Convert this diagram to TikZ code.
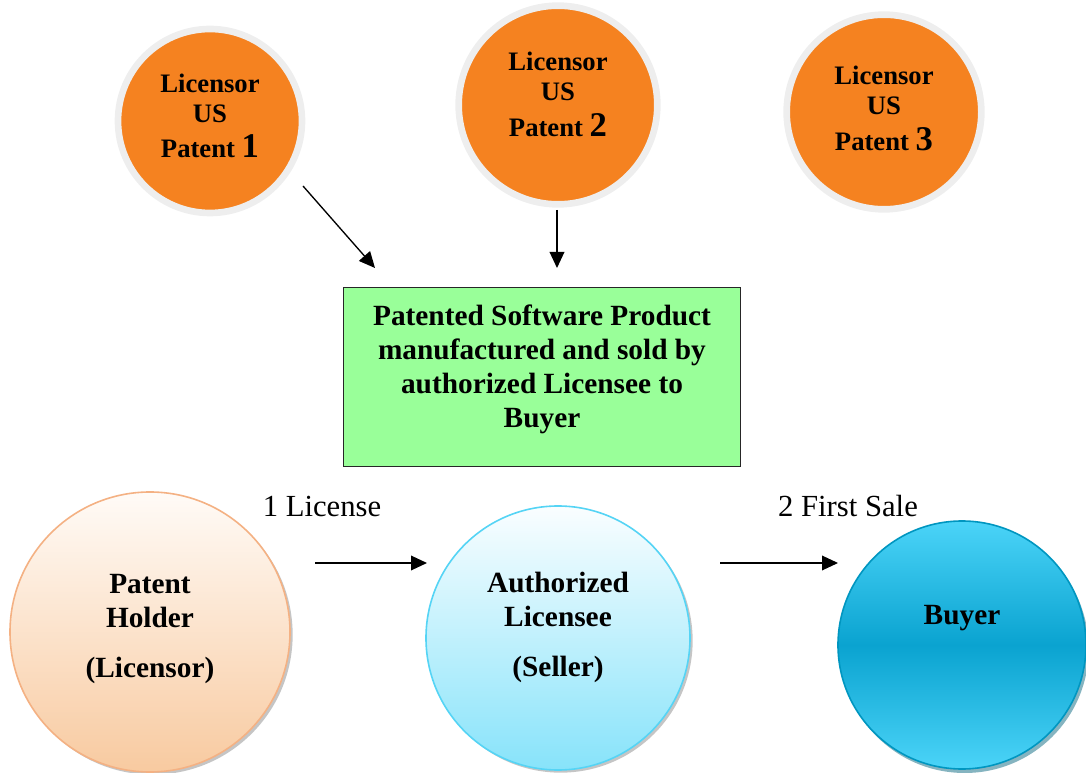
\documentclass[tikz,border=0pt]{standalone}
\usepackage{fontspec}
\setmainfont{Liberation Serif}
\usetikzlibrary{arrows.meta,shadows}
\definecolor{licorange}{RGB}{245,130,32}
\definecolor{ringgray}{RGB}{238,238,238}
\definecolor{prodgreen}{RGB}{153,255,153}
\definecolor{peachtop}{RGB}{255,251,247}
\definecolor{peachbot}{RGB}{248,202,160}
\definecolor{peachline}{RGB}{244,177,131}
\definecolor{skytop}{RGB}{250,254,255}
\definecolor{skybot}{RGB}{135,227,250}
\definecolor{skyline}{RGB}{85,212,245}
\definecolor{buyerlight}{RGB}{75,212,248}
\definecolor{buyerdark}{RGB}{10,163,208}
\definecolor{buyerline}{RGB}{0,150,192}
\definecolor{buyershadow}{RGB}{12,105,130}
\tikzstyle{lic}=[shape=circle,
                 fill=licorange,
                 draw=ringgray,
                 line width=5pt]
\tikzstyle{lictext}=[align=center,
                     font=\fontsize{20}{22.5}\selectfont\bfseries]
\tikzstyle{party}=[shape=circle,
                   line width=1.2pt]
\tikzstyle{partytext}=[align=center,
                       font=\fontsize{22}{25.5}\selectfont\bfseries]
\tikzstyle{prod}=[shape=rectangle,
                  fill=prodgreen,
                  draw=black!85,
                  line width=1.1pt,
                  minimum width=298pt,
                  minimum height=134pt]
\tikzstyle{deal}=[font=\fontsize{23}{26}\selectfont]

\begin{document}
\begin{tikzpicture}[x=0.75pt,y=-0.75pt,>={Triangle[length=12pt,width=11pt]},line width=1pt]
\useasboundingbox (0,0) rectangle (1086,773);

% licensors
\node[lic,minimum size=138pt,
      label={[lictext,yshift=4pt]center:Licensor\\US\\[4pt]Patent {\fontsize{26}{22.5}\selectfont 1}}] (lic1) at (210,121) {};
\node[lic,minimum size=149pt,
      label={[lictext,yshift=8pt]center:Licensor\\US\\[4pt]Patent {\fontsize{26}{22.5}\selectfont 2}}] (lic2) at (558,105) {};
\node[lic,minimum size=146pt,
      label={[lictext,yshift=2.6pt]center:Licensor\\US\\[4pt]Patent {\fontsize{26}{22.5}\selectfont 3}}] (lic3) at (884,112) {};

% product
\node[prod,label={[partytext,yshift=5.6pt]center:Patented Software Product\\manufactured and sold by\\authorized Licensee to\\Buyer}] (prod) at (542,377) {};

% parties
\node[party,minimum size=210pt,draw=peachline,top color=peachtop,bottom color=peachbot,
      drop shadow={shadow xshift=2pt,shadow yshift=-2pt,fill=black!45},
      label={[partytext,yshift=2.6pt]center:Patent\\Holder\\[12pt](Licensor)}] (holder) at (150,632) {};
\node[party,minimum size=198pt,draw=skyline,top color=skytop,bottom color=skybot,
      drop shadow={shadow xshift=2pt,shadow yshift=-2pt,fill=black!45},
      label={[partytext,yshift=8pt]center:Authorized\\Licensee\\[12pt](Seller)}] (licensee) at (558,638) {};
\node[party,minimum size=186pt,draw=buyerline,top color=buyerlight,bottom color=buyerlight,middle color=buyerdark,
      drop shadow={shadow xshift=2pt,shadow yshift=-3pt,fill=buyershadow},
      label={[partytext,yshift=20pt]center:Buyer}] (buyer) at (962,645) {};

% arrow ends
\coordinate (a1s) at (303,186);
\coordinate (a1e) at (375,268);
\coordinate (a2s) at (557,210);
\coordinate (a2e) at (557,268);
\coordinate (b1s) at (315,563);
\coordinate (b1e) at (427,563);
\coordinate (b2s) at (720,563);
\coordinate (b2e) at (838,563);

% paths
\path[->] (a1s) edge (a1e);
\path[->] (a2s) edge (a2e);
\path[->] (b1s) edge (b1e);
\path[->] (b2s) edge (b2e);

% deals
\node[deal] (lbl1) at (322,506) {1 License};
\node[deal] (lbl2) at (848,506) {2 First Sale};

\end{tikzpicture}
\end{document}
